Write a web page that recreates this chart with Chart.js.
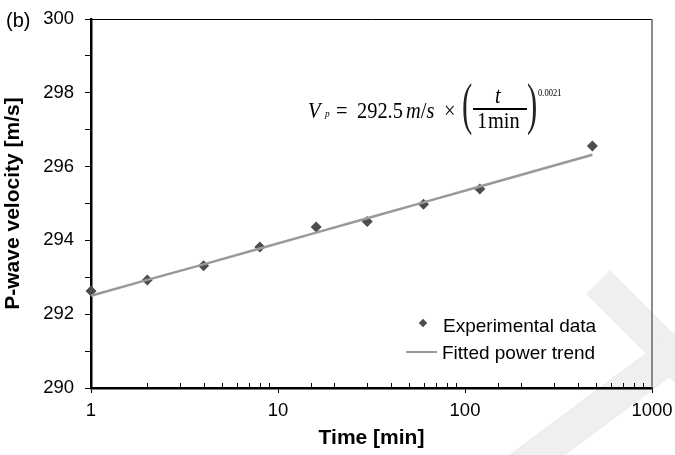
<!DOCTYPE html>
<html>
<head>
<meta charset="utf-8">
<script src="https://cdn.jsdelivr.net/npm/chart.js@4"></script>
<style>
  body { margin: 0; background: #fff; }
  #wrap { position: relative; width: 675px; height: 455px; overflow: hidden; }
  #chart { position: absolute; left: 0; top: 0; }
  .t { position: absolute; white-space: nowrap; color: #000; }
  .sans { font-family: "Liberation Sans", Arial, sans-serif; font-size: 19px; line-height: 19px; }
  .serif { font-family: "Liberation Serif", "Times New Roman", serif; font-size: 24px; line-height: 24px; transform: scaleX(0.85); transform-origin: 0 0; }
  .big { font-size: 56px; line-height: 56px; transform: scaleX(0.55); color: #222; }
</style>
</head>
<body>
<div id="wrap">
  <canvas id="chart" width="675" height="455"></canvas>

  <div class="t sans" style="left:6px; top:10px; font-size:20px; line-height:20px;">(b)</div>

  <!-- fitted power law -->
  <div class="t serif" style="left:308px; top:98px;"><i>V</i></div>
  <div class="t serif" style="left:325px; top:108px; font-size:11px; line-height:11px;"><i>p</i></div>
  <div class="t serif" style="left:336px; top:98px;">=</div>
  <div class="t serif" style="left:357px; top:98px;">292.5</div>
  <div class="t serif" style="left:406px; top:98px;"><i>m</i>/<i>s</i></div>
  <div class="t serif" style="left:444px; top:98px;">&times;</div>
  <div class="t serif big" style="left:462px; top:76px;">(</div>
  <div class="t serif" style="left:495px; top:83px;"><i>t</i></div>
  <div class="t" style="left:473px; top:108px; width:54px; height:1.5px; background:#000;"></div>
  <div class="t serif" style="left:477px; top:108px;">1</div>
  <div class="t serif" style="left:488px; top:108px;">min</div>
  <div class="t serif big" style="left:527px; top:76px;">)</div>
  <div class="t serif" style="left:538px; top:88px; font-size:10px; line-height:10px;">0.0021</div>

  <!-- legend -->
  <div class="t" style="left:420px; top:320px; width:6px; height:6px; background:#4d4d4d; transform:rotate(45deg);"></div>
  <div class="t sans" style="left:443px; top:316px;">Experimental data</div>
  <div class="t" style="left:406px; top:351px; width:31px; height:2px; background:#999;"></div>
  <div class="t sans" style="left:442px; top:343px;">Fitted power trend</div>
</div>

<script>
// elapsed time [min] and measured P-wave velocity [m/s]
const times = [1, 2, 4, 8, 16, 30, 60, 120, 480];
const velocities = [292.63, 292.93, 293.31, 293.82, 294.36, 294.51, 294.98, 295.39, 296.56];
// power trend evaluated at the same times
const trendValues = [292.50, 292.93, 293.35, 293.78, 294.21, 294.60, 295.03, 295.46, 296.32];

const xTicks = [1, 10, 100, 1000];
const yTicks = [290, 292, 294, 296, 298, 300];

const font = "'Liberation Sans', Arial, sans-serif";

function isDecade(v) {
    const l = Math.log10(v);
    return Math.abs(l - Math.round(l)) < 1e-9;
}

// faint grey chevron band behind the lower-right corner
const backdrop = {
    id: "backdrop",
    beforeDraw(chart) {
        const ctx = chart.ctx;
        ctx.save();
        ctx.strokeStyle = "#efefef";
        ctx.lineWidth = 34;
        ctx.beginPath();
        ctx.moveTo(598, 282);
        ctx.lineTo(700, 384);
        ctx.stroke();
        ctx.beginPath();
        ctx.moveTo(705, 330);
        ctx.lineTo(490, 490);
        ctx.stroke();
        ctx.restore();
    }
};

// top/right frame lines and inward minor ticks on the time axis
const frame = {
    id: "frame",
    afterDraw(chart) {
        const ctx = chart.ctx;
        const a = chart.chartArea;
        const x = chart.scales.x;
        ctx.save();
        ctx.strokeStyle = "#000";
        ctx.lineWidth = 1;
        ctx.beginPath();
        ctx.moveTo(a.left, a.top + 0.5);
        ctx.lineTo(a.right, a.top + 0.5);
        ctx.stroke();
        ctx.strokeStyle = "#666";
        ctx.lineWidth = 1.5;
        ctx.beginPath();
        ctx.moveTo(a.right, a.top);
        ctx.lineTo(a.right, a.bottom);
        ctx.stroke();
        ctx.strokeStyle = "#000";
        ctx.lineWidth = 1;
        x.ticks.forEach(t => {
            if (isDecade(t.value)) return;
            const px = Math.round(x.getPixelForValue(t.value)) + 0.5;
            ctx.beginPath();
            ctx.moveTo(px, a.bottom - 5);
            ctx.lineTo(px, a.bottom);
            ctx.stroke();
        });
        ctx.restore();
    }
};

new Chart(document.getElementById("chart"), {
    type: "scatter",
    data: {
        datasets: [
            {
                label: "Fitted power trend",
                data: times.map((t, i) => ({ x: t, y: trendValues[i] })),
                showLine: true,
                borderColor: "#999",
                borderWidth: 2.5,
                pointRadius: 0,
                clip: false,
                order: 0
            },
            {
                label: "Experimental data",
                data: times.map((t, i) => ({ x: t, y: velocities[i] })),
                pointStyle: "rectRot",
                pointRadius: 5.5,
                backgroundColor: "#4d4d4d",
                borderColor: "#4d4d4d",
                borderWidth: 0,
                clip: false,
                order: 1
            }
        ]
    },
    options: {
        responsive: false,
        animation: false,
        layout: { padding: { top: 19, right: 23, left: 0, bottom: 0 } },
        plugins: { legend: { display: false }, tooltip: { enabled: false } },
        scales: {
            x: {
                type: "logarithmic",
                min: xTicks[0],
                max: xTicks[xTicks.length - 1],
                afterFit(s) { s.height = 67; s.paddingLeft = 0; s.paddingRight = 0; },
                border: { color: "#000", width: 2.5 },
                grid: {
                    drawOnChartArea: false,
                    tickLength: 5,
                    tickWidth: 1,
                    tickColor: c => isDecade(c.tick.value) ? "#000" : "rgba(0,0,0,0)"
                },
                ticks: {
                    autoSkip: false,
                    maxRotation: 0,
                    padding: 7,
                    color: "#000",
                    font: { family: font, size: 18.5 },
                    callback: v => xTicks.includes(v) ? String(v) : ""
                },
                title: {
                    display: true,
                    text: "Time [min]",
                    color: "#000",
                    font: { family: font, size: 21, weight: "bold" },
                    padding: { top: 0, bottom: 4 }
                }
            },
            y: {
                min: yTicks[0],
                max: yTicks[yTicks.length - 1],
                afterFit(s) { s.width = 91; s.paddingTop = 0; s.paddingBottom = 0; },
                border: { color: "#000", width: 2.5 },
                grid: {
                    drawOnChartArea: false,
                    tickLength: 6,
                    tickWidth: 1,
                    tickColor: "#000"
                },
                ticks: {
                    stepSize: 1,
                    padding: 11,
                    color: "#000",
                    font: { family: font, size: 18.5 },
                    callback: v => yTicks.includes(v) ? String(v) : ""
                },
                title: {
                    display: true,
                    text: "P-wave velocity [m/s]",
                    color: "#000",
                    font: { family: font, size: 21, weight: "bold" },
                    padding: { top: 1, bottom: 0 }
                }
            }
        }
    },
    plugins: [backdrop, frame]
});
</script>
</body>
</html>
